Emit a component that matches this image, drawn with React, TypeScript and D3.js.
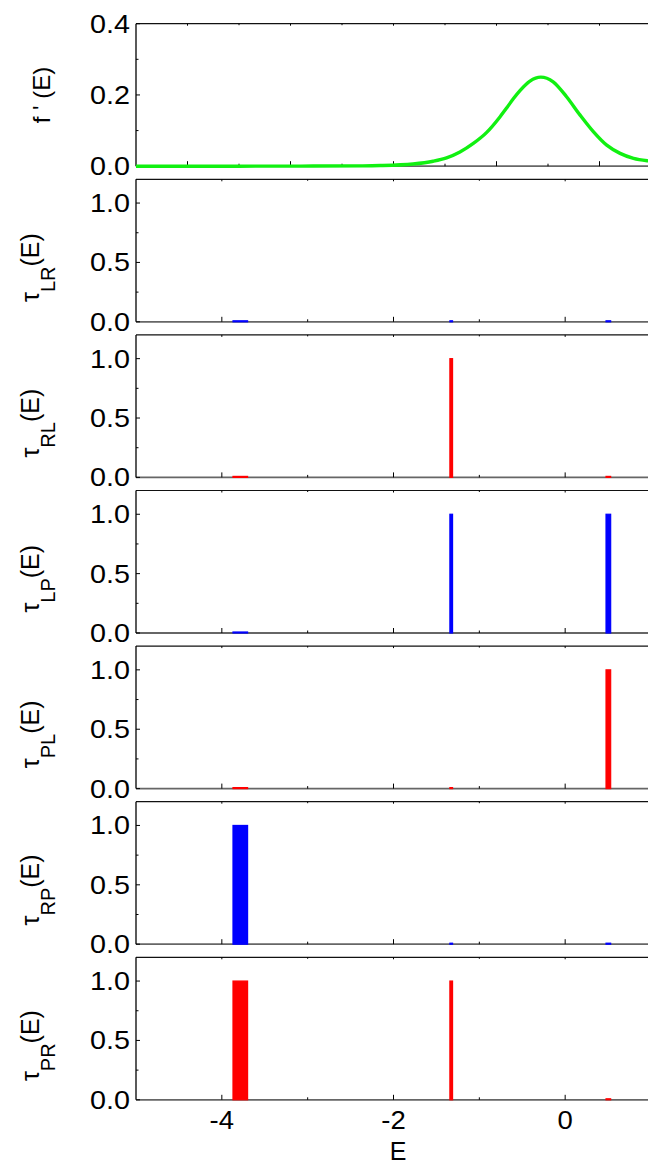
import React from "react";
import * as d3 from "d3";

// ---- data ----
// top panel: f'(E) curve
const fpE = [-5, -3, -1.8, -0.6, -0.26, 0.38, 0.77, 1.03, 1.29, 1.55, 1.81, 2.07, 2.2, 2.33, 2.46, 2.65, 2.86, 3.1, 3.36, 3.62, 3.88, 4.14, 4.4, 4.66, 4.94, 5];
const fpVal = [0, 0, 0.0003, 0.001, 0.0018, 0.0063, 0.014, 0.0234, 0.04, 0.064, 0.095, 0.139, 0.164, 0.19, 0.213, 0.239, 0.25, 0.237, 0.195, 0.144, 0.097, 0.059, 0.036, 0.022, 0.015, 0.014];
const topMajorTicks = [-4, -2, 0, 2, 4];
const topMinorTicks = [-3, -1, 1, 3];
const topYMajor = [0, 0.2, 0.4];
const topYMinor = [0.1, 0.3];

// transmission panels: energy windows and values
const windowStart = [-3.87, -1.343, 0.476];
const windowEnd = [-3.7, -1.312, 0.53];
const panelNames = ["LR", "RL", "LP", "PL", "RP", "PR"];
const panelColors = ["#0000ff", "#ff0000", "#0000ff", "#ff0000", "#0000ff", "#ff0000"];
const tauLR = [0, 0, 0];
const tauRL = [0, 1.0, 0];
const tauLP = [0, 1.0, 1.0];
const tauPL = [0, 0, 1.0];
const tauRP = [1.0, 0, 0];
const tauPR = [1.0, 1.0, 0];
const panelValues = [tauLR, tauRL, tauLP, tauPL, tauRP, tauPR];
const xMajorTicks = [-4, -2, 0];
const xMinorTicks = [-3, -1];
const yMajorTicks = [0, 0.5, 1.0];
const yMinorTicks = [0.25, 0.75];
const xTickLabels = ["-4", "-2", "0"];

const FONT = "'Liberation Sans', Arial, Helvetica, sans-serif";
const W = 648;
const H = 1166;
const LEFT = 136;
const RIGHT = 651;
const PANEL_H = 142.5;
const PITCH = 155.6;
const FIRST_BOTTOM = 166.2;

function panelBottom(i: number) {
  return FIRST_BOTTOM + PITCH * i;
}

function Frame({ top, bottom, xScale, xMaj, xMin, yScale, yMaj, yMin, yFmt }: any) {
  return (
    <g>
      {/* top border */}
      <line x1={LEFT} x2={W} y1={top} y2={top} stroke="#111" strokeWidth={1.2} />
      {/* bottom axis */}
      <line x1={LEFT} x2={W} y1={bottom} y2={bottom} stroke="#666" strokeWidth={1.8} />
      {/* left axis */}
      <line x1={LEFT} x2={LEFT} y1={top} y2={bottom} stroke="#000" strokeWidth={1.3} />
      {xMaj.map((t: number, k: number) => (
        <g key={"xM" + k}>
          <line x1={xScale(t)} x2={xScale(t)} y1={bottom} y2={bottom - 5} stroke="#000" strokeWidth={1} />
          <line x1={xScale(t)} x2={xScale(t)} y1={top} y2={top + 2} stroke="#000" strokeWidth={1} />
        </g>
      ))}
      {xMin.map((t: number, k: number) => (
        <g key={"xm" + k}>
          <line x1={xScale(t)} x2={xScale(t)} y1={bottom} y2={bottom - 2.5} stroke="#000" strokeWidth={1} />
          <line x1={xScale(t)} x2={xScale(t)} y1={top} y2={top + 1.5} stroke="#000" strokeWidth={1} />
        </g>
      ))}
      {yMaj.map((t: number, k: number) => (
        <g key={"yM" + k}>
          <line x1={LEFT} x2={LEFT + 4} y1={yScale(t)} y2={yScale(t)} stroke="#000" strokeWidth={1} />
          <text
            transform={`translate(130, ${yScale(t)}) scale(1.15, 1)`}
            dy="0.36em"
            textAnchor="end"
            fontSize={25}
            fontFamily={FONT}
            fill="#000"
          >
            {yFmt(t)}
          </text>
        </g>
      ))}
      {yMin.map((t: number, k: number) => (
        <line key={"ym" + k} x1={LEFT} x2={LEFT + 2.5} y1={yScale(t)} y2={yScale(t)} stroke="#000" strokeWidth={1} />
      ))}
    </g>
  );
}

export default function App() {
  const xTop = d3.scaleLinear().domain([-5, 5]).range([LEFT, RIGHT]);
  const x = d3.scaleLinear().domain([-5, 1]).range([LEFT, RIGHT]);
  const b0 = panelBottom(0);
  const yTop = d3.scaleLinear().domain([0, 0.4]).range([b0, b0 - PANEL_H]);
  const line = d3
    .line<number>()
    .x((_, i) => xTop(fpE[i]))
    .y((v) => yTop(v))
    .curve(d3.curveMonotoneX);
  const fmt1 = d3.format(".1f");

  return (
    <svg width={W} height={H} style={{ position: "absolute", left: 0, top: 0, background: "#fff" }}>
      <defs>
        <clipPath id="clipAll">
          <rect x={LEFT} y={0} width={W - LEFT} height={H} />
        </clipPath>
      </defs>
      {/* top panel */}
      <Frame
        top={b0 - PANEL_H}
        bottom={b0}
        xScale={xTop}
        xMaj={topMajorTicks}
        xMin={topMinorTicks}
        yScale={yTop}
        yMaj={topYMajor}
        yMin={topYMinor}
        yFmt={fmt1}
      />
      <path d={line(fpVal) || ""} fill="none" stroke="#11f011" strokeWidth={3.4} clipPath="url(#clipAll)" />
      <text
        transform={`translate(49.5, ${b0 - PANEL_H / 2}) rotate(-90)`}
        textAnchor="middle"
        fontSize={24}
        fontFamily={FONT}
        fill="#000"
      >
        f ' (E)
      </text>

      {panelNames.map((name, p) => {
        const bottom = panelBottom(p + 1);
        const top = bottom - PANEL_H;
        const y = d3.scaleLinear().domain([0, 1.2]).range([bottom, top]);
        const vals = panelValues[p];
        const color = panelColors[p];
        return (
          <g key={name}>
            <Frame
              top={top}
              bottom={bottom}
              xScale={x}
              xMaj={xMajorTicks}
              xMin={xMinorTicks}
              yScale={y}
              yMaj={yMajorTicks}
              yMin={yMinorTicks}
              yFmt={fmt1}
            />
            {vals.map((v, k) => {
              const x0 = x(windowStart[k]);
              const x1 = x(windowEnd[k]);
              const yv = y(v);
              const hgt = Math.max(bottom - yv, 1);
              return (
                <rect
                  key={k}
                  x={x0}
                  y={bottom - hgt}
                  width={x1 - x0}
                  height={hgt}
                  fill={color}
                  stroke={color}
                  strokeWidth={1.2}
                />
              );
            })}
            <text
              transform={`translate(38.5, ${(top + bottom) / 2 + 17}) rotate(-90)`}
              textAnchor="middle"
              fontSize={25}
              fontFamily={FONT}
              fill="#000"
            >
              τ
              <tspan fontSize={20} dy={16}>
                {name}
              </tspan>
              <tspan dy={-16}>(E)</tspan>
            </text>
            {p === panelNames.length - 1 &&
              xMajorTicks.map((t, k) => (
                <text
                  key={"xl" + k}
                  transform={`translate(${x(t)}, ${bottom + 29.5}) scale(1.1, 1)`}
                  textAnchor="middle"
                  fontSize={25}
                  fontFamily={FONT}
                  fill="#000"
                >
                  {xTickLabels[k]}
                </text>
              ))}
          </g>
        );
      })}
      <text x={398} y={1160} textAnchor="middle" fontSize={25} fontFamily={FONT} fill="#000">
        E
      </text>
    </svg>
  );
}
